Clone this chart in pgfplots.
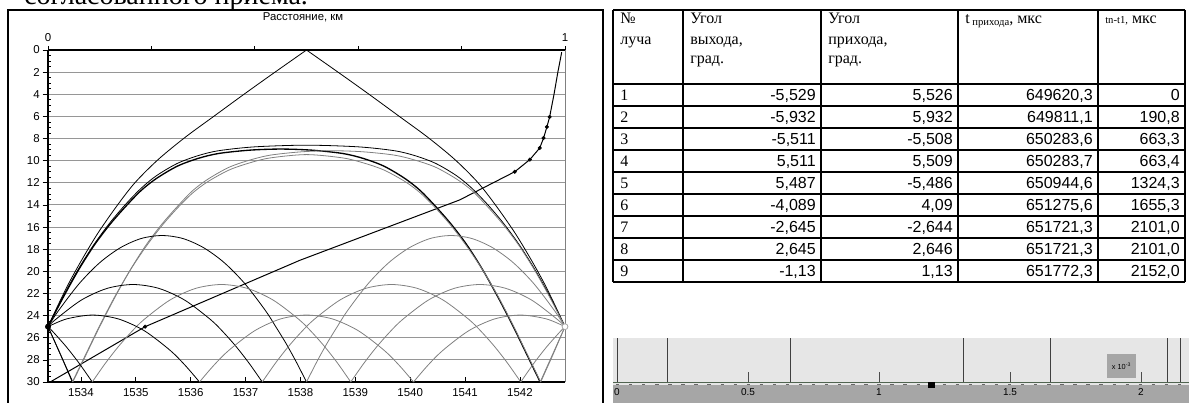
\documentclass[border=0pt]{standalone}
\usepackage{fontspec}
\setmainfont{Liberation Sans}
\newfontfamily\tms{Liberation Serif}
\usepackage{pgfplots}
\pgfplotsset{compat=1.18}
\definecolor{raygray}{RGB}{128,128,128}
\definecolor{gridgray}{RGB}{150,150,150}
\definecolor{lightbg}{RGB}{230,230,230}
\definecolor{darkband}{RGB}{166,166,166}
\definecolor{axgreen}{RGB}{80,100,80}
\newcommand\trow[6]{%
 \node[anchor=base west,font=\tms\fontsize{12}{14}\selectfont,inner sep=0pt] at (465pt,-#1pt) {#2};
 \node[anchor=base east,font=\fontsize{12}{14}\selectfont,inner sep=0pt] at (612pt,-#1pt) {#3};
 \node[anchor=base east,font=\fontsize{12}{14}\selectfont,inner sep=0pt] at (714.75pt,-#1pt) {#4};
 \node[anchor=base east,font=\fontsize{12}{14}\selectfont,inner sep=0pt] at (819.75pt,-#1pt) {#5};
 \node[anchor=base east,font=\fontsize{12}{14}\selectfont,inner sep=0pt] at (885pt,-#1pt) {#6};
}
\newcommand\hd[2]{\node[anchor=base west,font=\tms\fontsize{12}{14}\selectfont,inner sep=0pt] at #1 {#2};}
\begin{document}
\begin{tikzpicture}
\path[use as bounding box] (0pt,0pt) rectangle (891.75pt,-302.25pt);
% cut-off line of body text
\node[anchor=base west,inner sep=0pt,font=\tms\fontsize{21}{24}\selectfont] at (18pt,-3.2pt) {согласованного приема.};
% frame of the left panel
\draw[line width=1pt] (6pt,-310pt) -- (6pt,-7.5pt) -- (452.25pt,-7.5pt) -- (452.25pt,-310pt);
\node[font=\fontsize{8.5}{10}\selectfont, inner sep=0pt] at (227.25pt,-12.75pt) {Расстояние, км};

% ---------- sound speed axis (bottom) ----------
\begin{axis}[at={(36pt,-286.5pt)}, anchor=south west, scale only axis,
  width=387.75pt, height=249pt,
  xmin=1533.40, xmax=1542.82, ymin=0, ymax=30, y dir=reverse,
  axis line style={draw=none},
  xtick={1534,1535,...,1542},
  xticklabels={1534,1535,1536,1537,1538,1539,1540,1541,1542},
  minor x tick num=4,
  ytick={0,2,...,30},
  yticklabels={0,2,4,6,8,10,12,14,16,18,20,22,24,26,28,30},
  minor y tick num=3,
  tick pos=left, tick align=inside,
  major tick length=4pt, minor tick length=2pt,
  tick style={black, line width=0.5pt},
  every major y tick/.append style={xshift=-4pt},
  ymajorgrids, major grid style={gridgray, line width=0.7pt},
  ticklabel style={font=\fontsize{8.6}{10}\selectfont, inner sep=0pt},
  yticklabel style={anchor=east, xshift=-6pt},
  xticklabel style={anchor=north, yshift=-5pt},
  clip=false,
]
\draw[black, line width=1.6pt] (rel axis cs:0,0) -- (rel axis cs:0,1);
\draw[black, line width=0.9pt] (rel axis cs:0,1) -- (rel axis cs:1,1);
\draw[black, line width=0.9pt] (rel axis cs:0,0) -- (rel axis cs:1,0);
\draw[raygray, line width=0.75pt] (rel axis cs:1,0) -- (rel axis cs:1,1);
\addplot[black, line width=0.75pt] coordinates {(1533.44,30) (1535.17,25) (1537.99,19.0) (1540.9,13.55) (1541.905,11.0) (1542.18,9.9) (1542.36,8.85) (1542.43,7.95) (1542.49,6.95) (1542.54,6.05) (1542.62,4.0) (1542.69,2.0) (1542.76,0.2)};
\addplot[only marks, mark=*, mark size=1.3pt, black] coordinates {(1535.17,25) (1541.905,11.0) (1542.18,9.9) (1542.36,8.85) (1542.43,7.95) (1542.49,6.95) (1542.54,6.05)};
\end{axis}

% ---------- rays (distance axis, top) ----------
\begin{axis}[at={(36pt,-286.5pt)}, anchor=south west, scale only axis,
  width=387.75pt, height=249pt,
  xmin=0, xmax=1, ymin=0, ymax=30, y dir=reverse,
  axis line style={draw=none},
  xtick={0,0.2,0.4,0.6,0.8,1}, xticklabels={0,,,,,1},
  xtick pos=right, xticklabel pos=right,
  ytick=\empty,
  tick align=outside, major tick length=3pt,
  tick style={black, line width=0.5pt},
  xticklabel style={font=\fontsize{8.6}{10}\selectfont, inner sep=0pt, anchor=south, yshift=3pt},
  clip=false,
  rb/.style={black, line width=0.6pt, smooth},
  rg/.style={raygray, line width=0.6pt, smooth},
]
% ray 2 (surface)
\addplot[rb] coordinates {(0,25) (0.02,23.0) (0.04,21.1) (0.06,19.4) (0.08,17.8) (0.1,16.3) (0.133,14.1) (0.168,12.0) (0.213,9.9) (0.265,7.9) (0.319,6.05) (0.377,4.07) (0.43,2.3) (0.5,0)};
\addplot[rb] coordinates {(0.5,0) (0.57,2.3) (0.623,4.07) (0.681,6.05) (0.735,7.9) (0.787,9.9) (0.832,12.0) (0.867,14.1) (0.9,16.3) (0.92,17.8) (0.94,19.4) (0.96,21.1) (0.98,23.0) (1,25)};
% ray 1 (direct)
\addplot[rb] coordinates {(0,25) (0.03,22.2) (0.06,19.7) (0.09,17.5) (0.12,15.6) (0.15,13.95) (0.18,12.5) (0.21,11.35) (0.25,10.25) (0.29,9.55) (0.33,9.1) (0.4,8.75) (0.5,8.6) (0.6,8.75) (0.67,9.1) (0.71,9.55) (0.75,10.25) (0.79,11.35) (0.82,12.5) (0.85,13.95) (0.88,15.6) (0.91,17.5) (0.94,19.7) (0.97,22.2) (1,25)};
% ray 3
\addplot[rb, line width=1pt] coordinates {(0,25) (0.03,22.3) (0.06,19.8) (0.09,17.6) (0.12,15.75) (0.15,14.15) (0.18,12.7) (0.21,11.6) (0.25,10.5) (0.29,9.8) (0.33,9.35) (0.39,9.05) (0.45,8.95) (0.51,9.05) (0.57,9.35) (0.61,9.8) (0.65,10.5) (0.69,11.6) (0.72,12.7) (0.75,14.15) (0.78,15.75) (0.81,17.6) (0.84,19.8) (0.87,22.3) (0.9,25) (0.926,27.5) (0.952,30)};
\addplot[rg] coordinates {(0.952,30) (0.976,27.5) (1,25)};
% ray 4
\addplot[rb] coordinates {(0,25) (0.024,27.5) (0.048,30)};
\addplot[rg] coordinates {(0.048,30) (0.074,27.5) (0.1,25) (0.13,22.3) (0.16,19.8) (0.19,17.6) (0.22,15.75) (0.25,14.15) (0.28,12.7) (0.31,11.65) (0.35,10.6) (0.39,9.95) (0.43,9.5) (0.49,9.2) (0.55,9.1) (0.61,9.2) (0.67,9.5) (0.71,9.95) (0.75,10.6) (0.79,11.65) (0.82,12.7) (0.85,14.15) (0.88,15.75) (0.91,17.6) (0.94,19.8) (0.97,22.3) (1,25)};
% ray 5
\addplot[rb] coordinates {(0,25) (0.024,27.5) (0.047,30)};
\addplot[rg] coordinates {(0.047,30) (0.073,27.5) (0.099,25) (0.129,22.3) (0.159,19.9) (0.189,17.8) (0.219,15.95) (0.249,14.35) (0.279,12.95) (0.309,11.9) (0.35,10.85) (0.39,10.2) (0.43,9.75) (0.5,9.45) (0.57,9.75) (0.61,10.2) (0.65,10.85) (0.691,11.9) (0.721,12.95) (0.751,14.35) (0.781,15.95) (0.811,17.8) (0.841,19.9) (0.871,22.3) (0.901,25) (0.927,27.5) (0.953,30)};
\addplot[rg] coordinates {(0.953,30) (0.977,27.5) (1,25)};
% ray 6
\addplot[rb] coordinates {(0,25) (0.0205,23.54) (0.0605,21.10) (0.1005,19.20) (0.1405,17.85) (0.1805,17.03) (0.2205,16.76) (0.2605,17.03) (0.3005,17.85) (0.3405,19.20) (0.3805,21.10) (0.4205,23.54) (0.4405,25.0) (0.4605,26.52) (0.48,28.17) (0.5,30)};
\addplot[rg] coordinates {(0.5,30) (0.52,28.17) (0.5395,26.52) (0.5595,25.0) (0.5795,23.54) (0.6195,21.10) (0.6595,19.20) (0.6995,17.85) (0.7395,17.03) (0.7795,16.76) (0.8195,17.03) (0.8595,17.85) (0.8995,19.20) (0.9395,21.10) (0.9795,23.54) (1,25)};
% ray 7
\addplot[rb] coordinates {(0,25) (0.0144,24.36) (0.0644,22.60) (0.1144,21.54) (0.1644,21.19) (0.2144,21.54) (0.2644,22.60) (0.3144,24.36) (0.3394,25.51) (0.3644,26.83) (0.3894,28.33) (0.4144,30)};
\addplot[rg] coordinates {(0.4144,30) (0.4394,28.33) (0.4644,26.83) (0.4894,25.51) (0.5144,24.36) (0.5644,22.60) (0.6144,21.54) (0.6644,21.19) (0.7144,21.54) (0.7644,22.60) (0.8144,24.36) (0.8394,25.51) (0.8644,26.83) (0.8894,28.33) (0.9144,30)};
\addplot[rg] coordinates {(0.9144,30) (0.9394,28.33) (0.9644,26.83) (0.9894,25.51) (1,25)};
% ray 8
\addplot[rb] coordinates {(0,25) (0.0106,25.51) (0.0356,26.83) (0.0606,28.33) (0.0856,30)};
\addplot[rg] coordinates {(0.0856,30) (0.1106,28.33) (0.1356,26.83) (0.1606,25.51) (0.1856,24.36) (0.2356,22.60) (0.2856,21.54) (0.3356,21.19) (0.3856,21.54) (0.4356,22.60) (0.4856,24.36) (0.5106,25.51) (0.5356,26.83) (0.5606,28.33) (0.5856,30)};
\addplot[rg] coordinates {(0.5856,30) (0.6106,28.33) (0.6356,26.83) (0.6606,25.51) (0.6856,24.36) (0.7356,22.60) (0.7856,21.54) (0.8356,21.19) (0.8856,21.54) (0.9356,22.60) (0.9856,24.36) (1,25)};
% ray 9
\addplot[rb] coordinates {(0,25) (0.036,24.30) (0.086,23.95) (0.136,24.30) (0.186,25.36) (0.236,27.13) (0.266,28.53) (0.293,30)};
\addplot[rg] coordinates {(0.293,30) (0.32,28.53) (0.35,27.13) (0.4,25.36) (0.45,24.30) (0.5,23.95) (0.55,24.30) (0.6,25.36) (0.65,27.13) (0.68,28.53) (0.707,30)};
\addplot[rg] coordinates {(0.707,30) (0.734,28.53) (0.764,27.13) (0.814,25.36) (0.864,24.30) (0.914,23.95) (0.964,24.30) (1,25)};
% source and receiver
\addplot[only marks, mark=*, mark size=2pt, black] coordinates {(0,25)};
\addplot[only marks, mark=*, mark size=2.2pt, mark options={fill=white, draw=gray!70, line width=0.6pt}] coordinates {(1,25)};
\end{axis}

% ---------- table ----------
\foreach \x in {459.75,512.25,615.75,718.5,823.5,888.75} \draw[line width=0.9pt] (\x pt,-7.5pt) -- (\x pt,-211.5pt);
\foreach \y in {7.5,63,79.5,96,112.5,129,145.5,162,178.5,195,211.5} \draw[line width=0.9pt] (459.75pt,-\y pt) -- (888.75pt,-\y pt);
\hd{(465pt,-18pt)}{№}
\hd{(465pt,-33.75pt)}{луча}
\hd{(517.5pt,-18pt)}{Угол}
\hd{(517.5pt,-33.75pt)}{выхода,}
\hd{(517.5pt,-48pt)}{град.}
\hd{(621pt,-18pt)}{Угол}
\hd{(621pt,-33.75pt)}{прихода,}
\hd{(621pt,-48pt)}{град.}
\hd{(723.75pt,-18pt)}{t\raisebox{-1.5pt}{\fontsize{8}{9}\selectfont\ прихода}, мкс}
\hd{(828.75pt,-18pt)}{{\fontsize{8}{9}\selectfont tn-t1,} мкс}
\trow{75.4}{1}{-5,529}{5,526}{649620,3}{0}
\trow{91.9}{2}{-5,932}{5,932}{649811,1}{190,8}
\trow{108.4}{3}{-5,511}{-5,508}{650283,6}{663,3}
\trow{124.9}{4}{5,511}{5,509}{650283,7}{663,4}
\trow{141.4}{5}{5,487}{-5,486}{650944,6}{1324,3}
\trow{157.9}{6}{-4,089}{4,09}{651275,6}{1655,3}
\trow{174.4}{7}{-2,645}{-2,644}{651721,3}{2101,0}
\trow{190.9}{8}{2,645}{2,646}{651721,3}{2101,0}
\trow{207.4}{9}{-1,13}{1,13}{651772,3}{2152,0}

% ---------- arrival strip ----------
\fill[lightbg] (459.75pt,-253.5pt) rectangle (891.75pt,-288.75pt);
\fill[darkband] (459.75pt,-288.75pt) rectangle (891.75pt,-302.25pt);
\draw[black!60, line width=0.6pt, dash pattern=on 2.5pt off 7.3pt] (462pt,-288.4pt) -- (891.75pt,-288.4pt);
\begin{axis}[at={(459.75pt,-286.5pt)}, anchor=south west, scale only axis,
  width=432pt, height=33pt, xmin=-0.0153, xmax=2.1832, ymin=0, ymax=1,
  axis line style={draw=none}, ytick=\empty,
  xtick={0,0.5,1,1.5,2}, xticklabels={0,0.5,1,1.5,2},
  xtick pos=left, tick align=inside, major tick length=7.5pt,
  tick style={black!70, line width=0.6pt},
  xticklabel style={font=\fontsize{7.5}{8}\selectfont, inner sep=0pt, anchor=north, yshift=-4.5pt},
  clip=false]
\addplot[ycomb, black!75, line width=0.75pt, mark=none] coordinates {(0,1) (0.1908,1) (0.6633,1) (0.6634,1) (1.3243,1) (1.6553,1) (2.101,1) (2.101,1) (2.152,1)};
\draw[axgreen, line width=0.75pt] (rel axis cs:0,0) -- (rel axis cs:1,0);
\addplot[only marks, mark=square*, mark size=2pt, black] coordinates {(1.2,-0.07)};
\end{axis}
\node[fill=darkband, inner sep=1pt, minimum width=21.75pt, minimum height=18pt, font=\fontsize{5.5}{6}\selectfont] at (841.1pt,-274.5pt) {x 10\textsuperscript{-3}};
\end{tikzpicture}
\end{document}
